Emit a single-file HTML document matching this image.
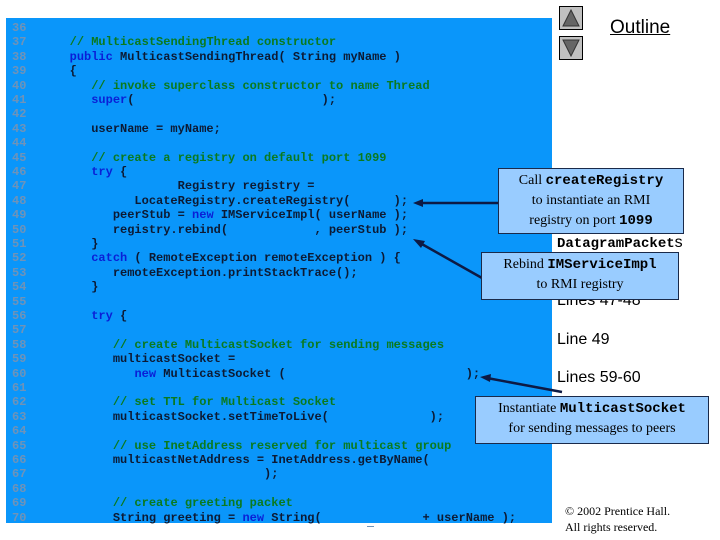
<!DOCTYPE html>
<html><head><meta charset="utf-8"><style>
body{margin:0;width:720px;height:540px;background:#fff;position:relative;overflow:hidden;font-family:"Liberation Sans",sans-serif}
#blue{position:absolute;left:6px;top:18px;width:546px;height:505px;background:#0a96fa}
.l{position:absolute;left:12px;font:bold 12px/14.4px "Liberation Mono",monospace;white-space:pre;color:#0d1a33;letter-spacing:0}
.n{color:#6f93b8}.c{color:#0b7a1e}.k{color:#0a1fd6}
.r{position:absolute;left:557px;font-size:16px;color:#000}
.m{font-family:"Liberation Mono",monospace;font-weight:bold}
.box{position:absolute;background:#99ccff;border:1.5px solid #1a2a4a;font-family:"Liberation Serif",serif;font-size:14px;text-align:center;line-height:20px;color:#000}
.box b{font-family:"Liberation Mono",monospace;font-size:14px}
.btn{position:absolute;left:559px;width:22px;height:22px;background:#c0c0c0;border:1px solid #000}
</style></head><body>
<div id="blue"></div>
<div class="l" style="top:21px"><span class="n">36</span></div>
<div class="l" style="top:35.4px"><span class="n">37</span>      <span class="c">// MulticastSendingThread constructor</span></div>
<div class="l" style="top:49.8px"><span class="n">38</span>      <span class="k">public</span> MulticastSendingThread( String myName )</div>
<div class="l" style="top:64.2px"><span class="n">39</span>      {</div>
<div class="l" style="top:78.6px"><span class="n">40</span>         <span class="c">// invoke superclass constructor to name Thread</span></div>
<div class="l" style="top:93px"><span class="n">41</span>         <span class="k">super</span>(                          );</div>
<div class="l" style="top:107.4px"><span class="n">42</span></div>
<div class="l" style="top:121.8px"><span class="n">43</span>         userName = myName;</div>
<div class="l" style="top:136.2px"><span class="n">44</span></div>
<div class="l" style="top:150.6px"><span class="n">45</span>         <span class="c">// create a registry on default port 1099</span></div>
<div class="l" style="top:165px"><span class="n">46</span>         <span class="k">try</span> {</div>
<div class="l" style="top:179.4px"><span class="n">47</span>                     Registry registry =</div>
<div class="l" style="top:193.8px"><span class="n">48</span>               LocateRegistry.createRegistry(      );</div>
<div class="l" style="top:208.2px"><span class="n">49</span>            peerStub = <span class="k">new</span> IMServiceImpl( userName );</div>
<div class="l" style="top:222.6px"><span class="n">50</span>            registry.rebind(            , peerStub );</div>
<div class="l" style="top:237px"><span class="n">51</span>         }</div>
<div class="l" style="top:251.4px"><span class="n">52</span>         <span class="k">catch</span> ( RemoteException remoteException ) {</div>
<div class="l" style="top:265.8px"><span class="n">53</span>            remoteException.printStackTrace();</div>
<div class="l" style="top:280.2px"><span class="n">54</span>         }</div>
<div class="l" style="top:294.6px"><span class="n">55</span></div>
<div class="l" style="top:309px"><span class="n">56</span>         <span class="k">try</span> {</div>
<div class="l" style="top:323.4px"><span class="n">57</span></div>
<div class="l" style="top:337.8px"><span class="n">58</span>            <span class="c">// create MulticastSocket for sending messages</span></div>
<div class="l" style="top:352.2px"><span class="n">59</span>            multicastSocket =</div>
<div class="l" style="top:366.6px"><span class="n">60</span>               <span class="k">new</span> MulticastSocket (                         );</div>
<div class="l" style="top:381px"><span class="n">61</span></div>
<div class="l" style="top:395.4px"><span class="n">62</span>            <span class="c">// set TTL for Multicast Socket</span></div>
<div class="l" style="top:409.8px"><span class="n">63</span>            multicastSocket.setTimeToLive(              );</div>
<div class="l" style="top:424.2px"><span class="n">64</span></div>
<div class="l" style="top:438.6px"><span class="n">65</span>            <span class="c">// use InetAddress reserved for multicast group</span></div>
<div class="l" style="top:453px"><span class="n">66</span>            multicastNetAddress = InetAddress.getByName(</div>
<div class="l" style="top:467.4px"><span class="n">67</span>                                 );</div>
<div class="l" style="top:481.8px"><span class="n">68</span></div>
<div class="l" style="top:496.2px"><span class="n">69</span>            <span class="c">// create greeting packet</span></div>
<div class="l" style="top:510.6px"><span class="n">70</span>            String greeting = <span class="k">new</span> String(              + userName );</div>
<div style="position:absolute;left:367px;top:526px;width:7px;height:1px;background:#6f93b8"></div>

<div class="btn" style="top:6px"><svg width="22" height="22"><polygon points="11,3 19,19 3,19" fill="#666" stroke="#333"/></svg></div>
<div class="btn" style="top:36px"><svg width="22" height="22"><polygon points="3,3 19,3 11,19" fill="#666" stroke="#333"/></svg></div>
<div style="position:absolute;left:610px;top:17px;font-size:19px;text-decoration:underline">Outline</div>

<div class="r m" style="top:197px;left:655px;font-size:14px">ing</div>
<div class="r" style="top:214px;left:662px">ts</div>
<div class="r" style="top:234px"><span class="m" style="font-size:14px">DatagramPacket</span>s</div>
<div class="r" style="top:292px">Lines 47-48</div>
<div class="r" style="top:331px">Line 49</div>
<div class="r" style="top:369px">Lines 59-60</div>

<svg style="position:absolute;left:0;top:0" width="720" height="540">
<g stroke="#0d1a44" stroke-width="2.5" fill="#0d1a44">
<line x1="420" y1="203" x2="499" y2="203"/><polygon points="413,203 423,199 423,207" stroke="none"/>
<line x1="420" y1="243" x2="482" y2="278"/><polygon points="413,239 425,241 421,248" stroke="none"/>
<line x1="487" y1="378" x2="562" y2="392"/><polygon points="480,377 491,374 490,382" stroke="none"/>
</g></svg>

<div class="box" style="left:498px;top:168px;width:184px;height:62px;padding-top:2px">Call <b>createRegistry</b><br>to instantiate an RMI<br>registry on port <b>1099</b></div>
<div class="box" style="left:481px;top:252px;width:196px;height:44px;padding-top:2px">Rebind <b>IMServiceImpl</b><br>to RMI registry</div>
<div class="box" style="left:475px;top:396px;width:232px;height:44px;padding-top:2px">Instantiate <b>MulticastSocket</b><br>for sending messages to peers</div>

<div style="position:absolute;left:565px;top:503px;font:12px/16px 'Liberation Serif',serif">© 2002 Prentice Hall.<br>All rights reserved.</div>
</body></html>
